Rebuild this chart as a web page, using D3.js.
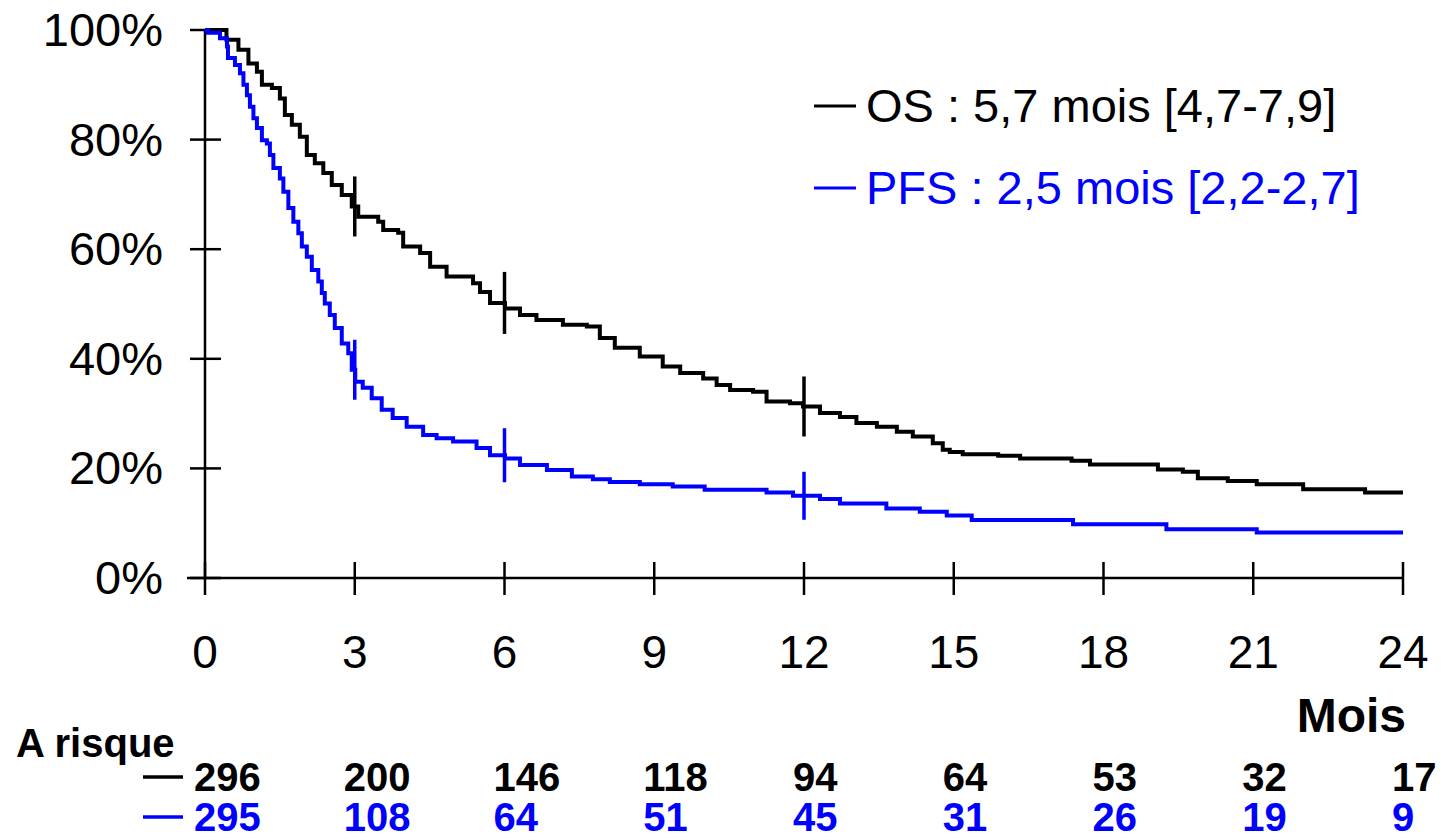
<!DOCTYPE html>
<html>
	<head>
		<title>Survie OS / PFS</title>
		<style>
			body, html {
				margin: 0;
				padding: 0;
				background: #fff;
			}
			text {
				font-family: "Liberation Sans", Arial, sans-serif;
			}
		</style>
	</head>
	<body>

		<svg id="svg" width="1450" height="840"></svg>

		<script src="https://cdn.jsdelivr.net/npm/d3@7/dist/d3.min.js"></script>
		<script>
			// Kaplan-Meier curves (months, % alive / without progression)
			const osMonths = [0, 0.43, 0.67, 0.87, 1.04, 1.14, 1.34, 1.50, 1.60, 1.74, 1.90, 2.04, 2.20, 2.37, 2.54, 2.74, 2.94,
				3.07, 3.47, 3.57, 3.87, 3.97, 4.31, 4.51, 4.84, 5.37, 5.51, 5.71, 6.01, 6.31, 6.64, 7.17, 7.65, 7.91, 8.21,
				8.71, 9.17, 9.52, 9.98, 10.25, 10.52, 10.98, 11.25, 11.72, 11.98, 12.32, 12.72, 13.05, 13.46, 13.86, 14.18,
				14.58, 14.78, 14.92, 15.18, 15.89, 16.33, 17.36, 17.73, 19.09, 19.59, 19.89, 20.49, 21.07, 22.00, 23.24, 24]
			const osSurv = [100, 98.2, 96.4, 93.9, 92.4, 90.0, 89.4, 87.5, 84.5, 82.7, 80.5, 77.2, 75.7, 73.9, 71.7, 69.9, 67.8,
				65.9, 65.0, 63.5, 63.0, 60.5, 59.3, 56.8, 55.0, 53.8, 52.2, 50.2, 49.2, 48.0, 47.1, 46.2, 45.9, 43.8, 42.0,
				40.4, 38.6, 37.4, 36.4, 35.2, 34.3, 34.0, 32.2, 31.9, 31.3, 30.1, 29.4, 28.3, 27.6, 26.7, 25.8,
				24.6, 23.4, 23.0, 22.6, 22.3, 21.8, 21.4, 20.7, 19.8, 19.4, 18.2, 17.7, 17.1, 16.2, 15.6, 15.6]

			const pfsMonths = [0, 0.06, 0.30, 0.44, 0.46, 0.60, 0.70, 0.77, 0.84, 0.90, 0.97, 1.04, 1.14, 1.24, 1.30, 1.37,
				1.50, 1.57, 1.67, 1.77, 1.87, 1.94, 2.04, 2.14, 2.27, 2.34, 2.40, 2.50, 2.60, 2.74, 2.87, 2.94, 3.01, 3.16,
				3.34, 3.54, 3.76, 4.04, 4.37, 4.64, 4.97, 5.44, 5.71, 6.01, 6.31, 6.85, 7.35, 7.77, 8.11, 8.71, 9.37, 10.01,
				11.25, 11.78, 12.32, 12.72, 13.65, 14.32, 14.86, 15.36, 17.39, 19.26, 21.07, 24]
			const pfsSurv = [100, 99.5, 98.5, 97.0, 94.9, 93.6, 92.1, 90.0, 88.1, 86.0, 83.9, 82.1, 79.9, 79.3, 77.2, 74.8,
				72.9, 70.5, 67.5, 65.0, 62.9, 60.5, 58.6, 56.2, 54.1, 52.0, 50.1, 48.0, 45.6, 42.8, 41.0, 38.0, 35.8, 34.7,
				32.8, 30.7, 29.2, 27.6, 26.1, 25.5, 24.9, 23.7, 22.4, 21.8, 20.6, 19.7, 18.5, 18.0, 17.5, 17.1, 16.7, 16.1,
				15.6, 15.0, 14.4, 13.6, 12.7, 12.1, 11.4, 10.6, 9.8, 8.9, 8.3, 8.3]

			// censor marks drawn on the curves
			const censorMonths = [3, 6, 12]

			// axis ticks
			const xTicks = [0, 3, 6, 9, 12, 15, 18, 21, 24]
			const yTicks = [0, 20, 40, 60, 80, 100]

			// number at risk under each x tick
			const riskOS = [296, 200, 146, 118, 94, 64, 53, 32, 17]
			const riskPFS = [295, 108, 64, 51, 45, 31, 26, 19, 9]

			const seriesNames = ['OS : 5,7 mois [4,7-7,9]', 'PFS : 2,5 mois [2,2-2,7]']

			const colors = ['#000000', '#0000ff']
			const markHalf = [[30, 31, 30], [30, 27, 24]]

			const svg = d3.select('#svg')

			const xscale = d3.scaleLinear().domain([0, 24]).range([205, 1403])
			const yscale = d3.scaleLinear().domain([0, 100]).range([578, 30])

			// axes (ticks cross the axis line on both sides)
			const axes = svg.append('g')
				.attr('stroke', '#000')
				.attr('stroke-width', 2.5)

			axes.append('line')
				.attr('x1', xscale(0)).attr('x2', xscale(0))
				.attr('y1', yscale(100)).attr('y2', yscale(0))
			axes.append('line')
				.attr('x1', 187).attr('x2', xscale(24))
				.attr('y1', yscale(0)).attr('y2', yscale(0))

			axes.selectAll('.yt').data(yTicks).join('line')
				.attr('x1', xscale(0) - 15).attr('x2', xscale(0) + 16)
				.attr('y1', d => yscale(d)).attr('y2', d => yscale(d))
			axes.selectAll('.xt').data(xTicks).join('line')
				.attr('x1', d => xscale(d)).attr('x2', d => xscale(d))
				.attr('y1', yscale(0) - 16).attr('y2', yscale(0) + 17)

			svg.selectAll('.ylab').data(yTicks).join('text')
				.attr('x', 163)
				.attr('y', d => yscale(d) + 16)
				.attr('text-anchor', 'end')
				.attr('font-size', 47)
				.text(d => d + '%')

			svg.selectAll('.xlab').data(xTicks).join('text')
				.attr('x', d => xscale(d))
				.attr('y', 668)
				.attr('text-anchor', 'middle')
				.attr('font-size', 46)
				.text(d => d)

			svg.append('text')
				.attr('x', 1406).attr('y', 732)
				.attr('text-anchor', 'end')
				.attr('font-size', 48)
				.attr('font-weight', 'bold')
				.text('Mois')

			// curves
			const linegen = d3.line()
				.x(d => xscale(d[0]))
				.y(d => yscale(d[1]))
				.curve(d3.curveStepAfter)

			const series = [
				{ months: osMonths, surv: osSurv },
				{ months: pfsMonths, surv: pfsSurv }
			]

			function survAt(s, t) {
				let v = s.surv[0]
				s.months.forEach((m, i) => { if (m <= t) v = s.surv[i] })
				return v
			}

			series.forEach((s, k) => {
				svg.append('path')
					.attr('d', linegen(d3.zip(s.months, s.surv)))
					.attr('fill', 'none')
					.attr('stroke', colors[k])
					.attr('stroke-width', 4)

				svg.selectAll('.cm' + k).data(censorMonths).join('line')
					.attr('x1', d => xscale(d)).attr('x2', d => xscale(d))
					.attr('y1', (d, i) => yscale(survAt(s, d)) - markHalf[k][i])
					.attr('y2', (d, i) => yscale(survAt(s, d)) + markHalf[k][i])
					.attr('stroke', colors[k])
					.attr('stroke-width', 3.5)
			})

			// legend
			seriesNames.forEach((name, k) => {
				const y = 106 + k * 82
				svg.append('line')
					.attr('x1', 814).attr('x2', 856)
					.attr('y1', y).attr('y2', y)
					.attr('stroke', colors[k])
					.attr('stroke-width', 3)
				svg.append('text')
					.attr('x', 866).attr('y', y + 16)
					.attr('font-size', 47)
					.attr('fill', colors[k])
					.text(name)
			})

			// number at risk
			svg.append('text')
				.attr('x', 16).attr('y', 757)
				.attr('font-size', 40)
				.attr('font-weight', 'bold')
				.text('A risque')

			;[riskOS, riskPFS].forEach((row, k) => {
				const y = k === 0 ? 791 : 831
				svg.append('line')
					.attr('x1', 143).attr('x2', 183)
					.attr('y1', y - 14).attr('y2', y - 14)
					.attr('stroke', colors[k])
					.attr('stroke-width', 3.5)
				svg.selectAll('.risk' + k).data(row).join('text')
					.attr('x', (d, i) => xscale(xTicks[i]) - 11)
					.attr('y', y)
					.attr('font-size', 40)
					.attr('font-weight', 'bold')
					.attr('fill', colors[k])
					.text(d => d)
			})
		</script>
	</body>
</html>
